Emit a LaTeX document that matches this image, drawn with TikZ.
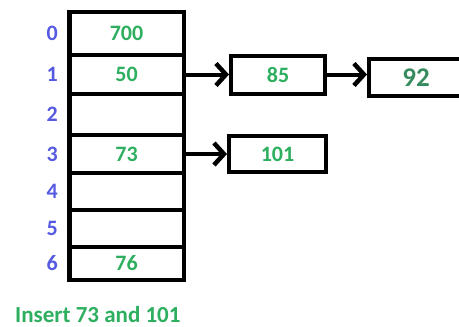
\documentclass[tikz,border=0pt]{standalone}
\usepackage{fontspec}
\setmainfont{Carlito}
\usetikzlibrary{arrows.meta,positioning}

\definecolor{idxblue}{RGB}{85,90,225}
\definecolor{valgreen}{RGB}{45,175,95}
\definecolor{tailgreen}{RGB}{55,140,95}

\tikzset{
  cell/.style={draw, line width=4.5pt, minimum width=114.5pt, inner sep=0pt,
    font=\bfseries\fontsize{22}{22}\selectfont, text=valgreen},
  idx/.style={inner sep=0pt, font=\bfseries\fontsize{22}{22}\selectfont, text=idxblue},
  chain/.style={draw, line width=4pt, inner sep=0pt,
    font=\bfseries\fontsize{22}{22}\selectfont, text=valgreen},
  link/.style={line width=4pt, -{Straight Barb[length=10pt,width=22pt,line width=4.5pt]}},
}

\begin{document}
\begin{tikzpicture}[x=1pt,y=-1pt]
\useasboundingbox (0,0) rectangle (459,327);

% Hash table slots with their index numbers
\foreach \i/\y/\h/\v in {0/33.5/43/700, 1/74.5/39/50, 2/114.5/41/, 3/154/38/73,
                         4/191.5/37/, 5/228.5/37/, 6/263.5/33/76} {
  \node[cell, minimum height=\h pt] (r\i) at (126.5,\y) {\v};
  \node[idx, left=9pt of r\i] (l\i) {\i};
}

% Chained entries
\node[chain, minimum width=94pt, minimum height=38pt] (n85) at (278,74.5) {85};
\node[chain, minimum width=94pt, minimum height=37pt,
      font=\bfseries\fontsize{27}{27}\selectfont, text=tailgreen] (n92) at (416,77.5) {92};
\node[chain, minimum width=97pt, minimum height=36pt] (n101) at (277.5,154) {101};

% Links
\draw[link] (r1.east) -- (r1.east -| n85.west);
\draw[link] (n85.east) -- (n85.east -| n92.west);
\draw[link] (r3.east) -- (n101.west);

% Caption
\node[anchor=base west, inner sep=0pt, font=\bfseries\fontsize{23}{23}\selectfont,
      text=valgreen] (caption) at (15,322) {Insert 73 and 101};

\end{tikzpicture}
\end{document}
